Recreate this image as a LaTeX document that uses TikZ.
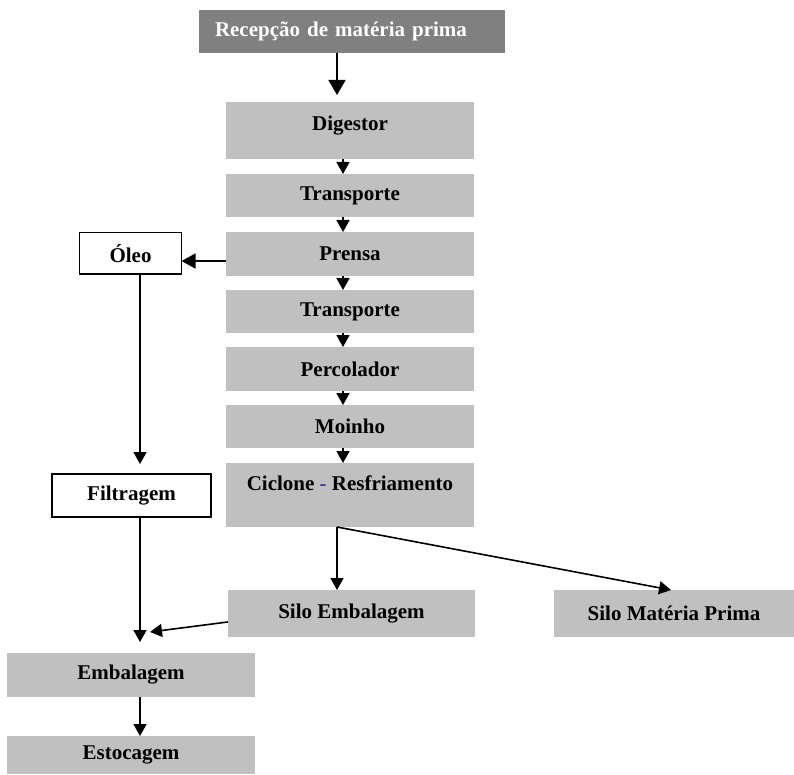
\documentclass[tikz,border=0pt]{standalone}
\usepackage{fontspec}
\setmainfont{Liberation Serif}
\usepackage{tikz}
\usetikzlibrary{arrows.meta}
\usetikzlibrary{calc}

\definecolor{boxgray}{HTML}{C0C0C0}
\definecolor{headgray}{HTML}{808080}
\definecolor{dashblue}{HTML}{3A3AA0}

\tikzset{
  procbox/.style={fill=boxgray, outer sep=0pt, minimum width=248pt,
    font=\fontsize{21}{25}\selectfont\bfseries},
  headbox/.style={fill=headgray, text=white, outer sep=0pt,
    font=\fontsize{21}{25}\selectfont\bfseries},
  outbox/.style={draw, line width=1.5pt, fill=white, outer sep=0pt,
    font=\fontsize{21}{25}\selectfont\bfseries},
  flow/.style={line width=1.6pt, -{Triangle[width=13pt, length=12pt]}},
}

\begin{document}
\begin{tikzpicture}[x=1pt, y=-1pt]
\useasboundingbox (0,0) rectangle (794,775);
% main column
\node[headbox, minimum height=43pt, inner xsep=16pt, text width=274pt, align=left] (recep) at (352, 31.5) {Recepção de matéria prima};
\node[procbox, minimum height=57pt, inner sep=0pt, text height=29pt, text depth=28pt] (dig) at (350, 130.5) {Digestor};
\node[procbox, minimum height=43pt] (trans1) at (350, 195.5) {Transporte};
\node[procbox, minimum height=44pt] (prensa) at (350, 254) {Prensa};
\node[procbox, minimum height=43pt] (trans2) at (350, 311.5) {Transporte};
\node[procbox, minimum height=44pt] (perc) at (350, 369) {Percolador};
\node[procbox, minimum height=43pt] (moinho) at (350, 426.5) {Moinho};
\node[procbox, minimum height=64pt, inner sep=0pt, text height=27pt, text depth=37pt] (ciclone) at (350, 495) {Ciclone {\color{dashblue}-} Resfriamento};
\node[procbox, minimum width=247pt, minimum height=47pt] (siloemb) at (351.5, 613.5) {Silo Embalagem};
\node[procbox, minimum width=240pt, minimum height=47pt] (silomp) at (674, 613.5) {Silo Matéria Prima};
% oil branch
\node[outbox, minimum width=102pt, minimum height=41.5pt] (oleo) at (130.5, 253.5) {Óleo};
\node[outbox, minimum width=159pt, minimum height=43pt] (filt) at (131.5, 495.5) {Filtragem};
\node[procbox, minimum height=44pt] (emb) at (131, 675) {Embalagem};
\node[procbox, minimum height=38pt] (estoc) at (131, 755) {Estocagem};

\path (dig.south) ++(-7,0) coordinate (spine);
\path (recep.south) ++(-15,0) coordinate (topx);
\path (ciclone.south) ++(-13,0) coordinate (fork);
\coordinate (press) at ($(prensa.south west)!0.34!(prensa.north west)$);
\coordinate (leftx) at (140, 0);
\coordinate (merge) at (150, 632);

% connectors
\draw[flow, -{Triangle[width=17pt, length=15pt]}, shorten >=7pt] (topx) -- (dig.north -| topx);
\foreach \a/\b in {dig/trans1, trans1/prensa, prensa/trans2, trans2/perc, perc/moinho, moinho/ciclone}
  \draw[flow] (\a.south -| spine) -- (\b.north -| spine);
\draw[flow, -{Triangle[width=15pt, length=14pt]}] (press) -- (oleo.east |- press);
\draw[flow, shorten >=10pt] (oleo.south -| leftx) -- (filt.north -| leftx);
\draw[flow, shorten >=11pt] (filt.south -| leftx) -- (emb.north -| leftx);
\draw[flow] (emb.south -| leftx) -- (estoc.north -| leftx);
\draw[flow] (fork) -- (siloemb.north -| fork);
\draw[flow] (fork) -- ($(silomp.north)+(-3,0)$);
\draw[flow] ($(siloemb.south west)!0.32!(siloemb.north west)$) -- (merge);
\end{tikzpicture}
\end{document}
